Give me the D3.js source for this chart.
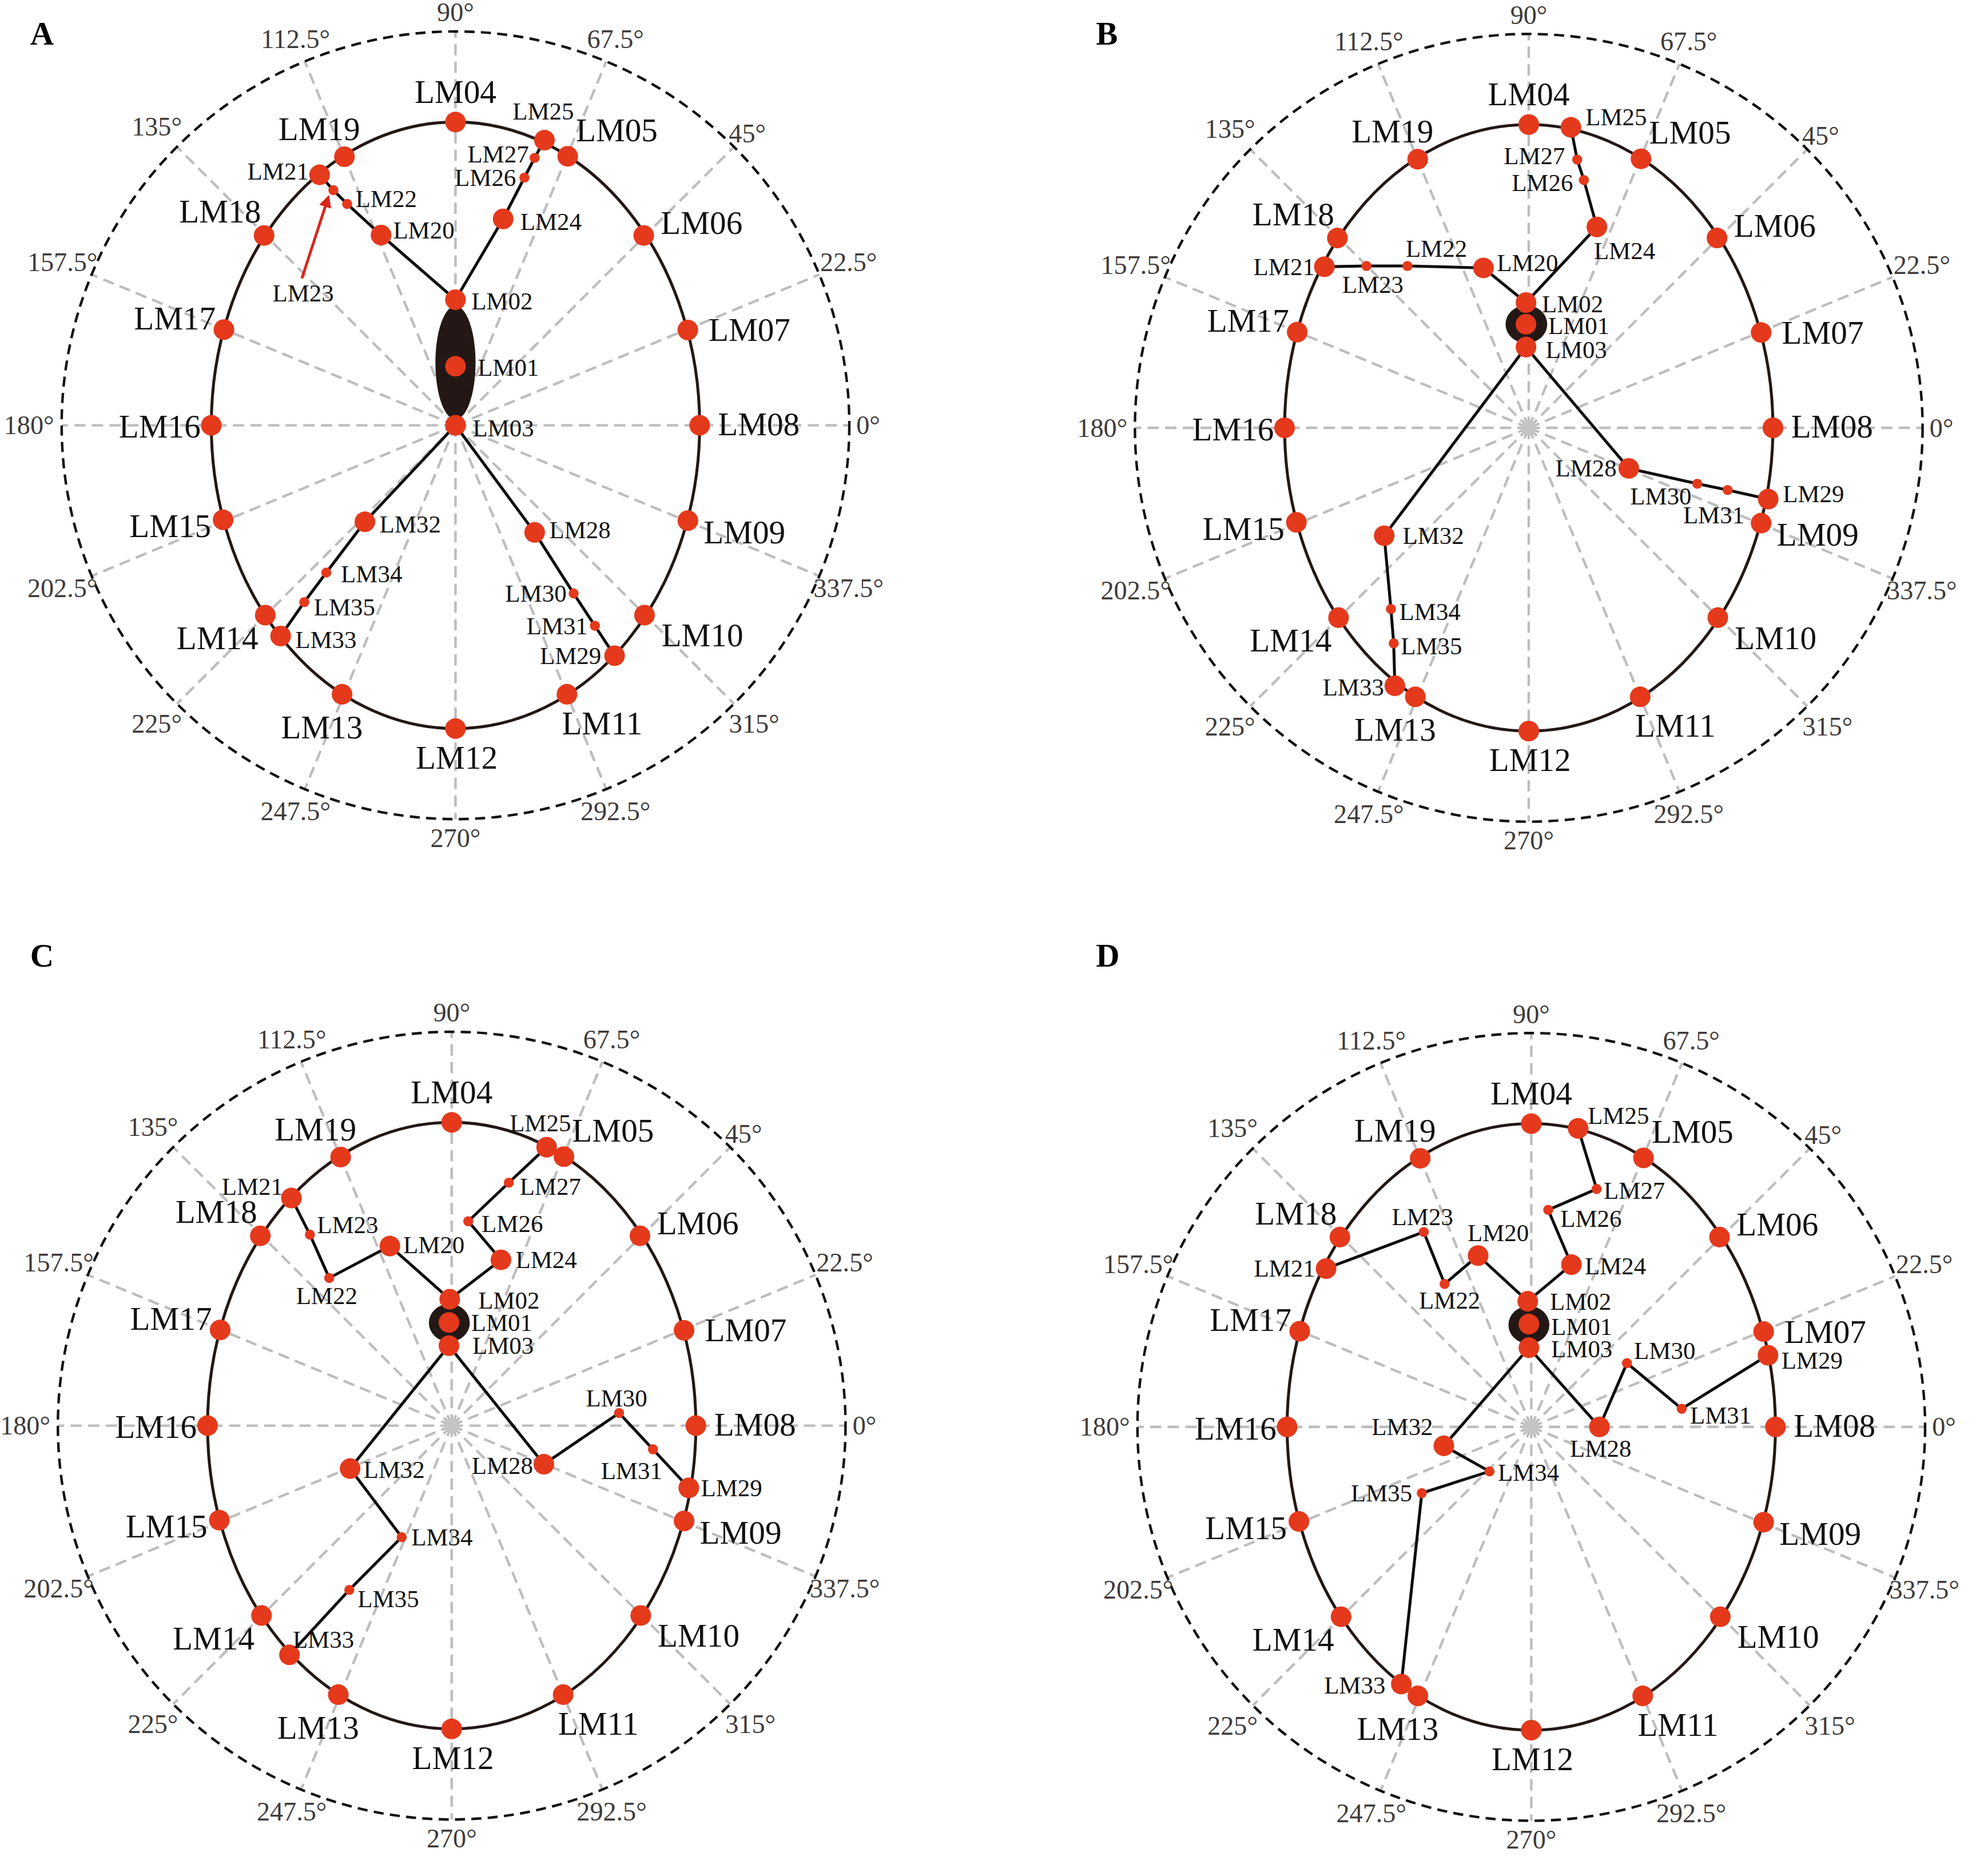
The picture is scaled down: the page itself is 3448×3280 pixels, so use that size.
<!DOCTYPE html>
<html>
<head>
<meta charset="utf-8">
<script src="https://cdn.jsdelivr.net/npm/d3@7"></script>
<style>
html, body { margin: 0; padding: 0; background: #fff; }
svg text { font-family: "Liberation Serif", "Times New Roman", serif; }
</style>
</head>
<body>
<div id="chart"></div>
<script>
// all landmark values are in units where the dashed outer circle has radius 100
// (x to the right, y upwards, origin at the polar centre)

// outline landmarks LM04-LM19, same in every panel
var ringNames = ['LM04', 'LM05', 'LM06', 'LM07', 'LM08', 'LM09', 'LM10', 'LM11',
                 'LM12', 'LM13', 'LM14', 'LM15', 'LM16', 'LM17', 'LM18', 'LM19'];
var ringX = [0, 28.5, 47.8, 59, 62, 59, 48, 28.3, 0, -28.8, -48.3, -59, -62, -58.8, -48.6, -28.2];
var ringY = [77, 68.3, 48.2, 24.2, 0, -24.2, -48.2, -68.3, -77, -68.3, -48.2, -24, 0, 24.3, 48.2, 68.2];

// semi axes of the outline ellipse
var outlineAxes = [62, 77];

// inner landmarks, one x and one y list per panel
var innerNames = ['LM01', 'LM02', 'LM03', 'LM20', 'LM21', 'LM22', 'LM23', 'LM24', 'LM25', 'LM26',
                  'LM27', 'LM28', 'LM29', 'LM30', 'LM31', 'LM32', 'LM33', 'LM34', 'LM35'];
var innerXA = [0, 0, 0, -18.9, -34.5, -27.5, -31.0, 12.1, 22.6, 17.5, 20.1, 20.1, 40.4, 30.0, 35.4, -23.0, -44.4, -32.8, -38.4];
var innerYA = [15, 31.9, 0, 48.3, 63.6, 56.2, 59.7, 52.4, 72.4, 62.9, 67.9, -27.2, -58.5, -42.7, -50.9, -24.5, -53.5, -37.4, -44.9];
var innerXB = [-0.7, -0.7, -0.7, -11.5, -51.9, -30.8, -41.2, 17.3, 10.7, 14.0, 12.3, 25.4, 60.8, 42.8, 50.5, -36.7, -34.0, -35.0, -34.3];
var innerYB = [26.3, 31.8, 20.5, 40.6, 40.9, 41.1, 41.1, 51.0, 76.3, 62.9, 68.1, -10.3, -18.1, -14.2, -15.8, -27.4, -65.5, -46.0, -54.7];
var innerXC = [-0.7, -0.5, -0.7, -15.7, -40.7, -31.1, -36.0, 12.5, 24.1, 4.2, 14.5, 23.4, 60.2, 42.5, 51.1, -25.8, -41.2, -12.7, -26.0];
var innerYC = [26.2, 32.1, 20.3, 45.6, 57.8, 37.5, 48.5, 42.1, 70.7, 51.9, 61.7, -9.8, -15.8, 3.2, -6.0, -10.9, -58.2, -28.3, -41.7];
var innerXD = [-0.6, -0.9, -0.6, -13.5, -52.1, -22.0, -27.3, 10.2, 11.9, 4.3, 16.6, 17.3, 60.1, 24.3, 38.2, -22.2, -33.0, -10.6, -27.8];
var innerYD = [26.1, 31.9, 20.1, 43.5, 40.2, 36.3, 49.5, 41.2, 75.8, 55.1, 60.4, 0, 18.2, 16.2, 4.6, -4.8, -65.3, -11.3, -16.8];

// dark ellipse around LM01 (x, y, rx, ry) per panel
var blobA = [0, 15.9, 5.1, 14.4];
var blobB = [-0.6, 26.3, 5.3, 4.8];
var blobC = [-0.6, 26.1, 5.2, 4.8];
var blobD = [-0.6, 25.9, 5.2, 4.8];

// connected landmark chains
var chains = [
    ['LM21', 'LM23', 'LM22', 'LM20', 'LM02'],
    ['LM25', 'LM27', 'LM26', 'LM24', 'LM02'],
    ['LM03', 'LM28', 'LM30', 'LM31', 'LM29'],
    ['LM03', 'LM32', 'LM34', 'LM35', 'LM33']
];
var smallDots = ['LM22', 'LM23', 'LM26', 'LM27', 'LM30', 'LM31', 'LM34', 'LM35'];

// polar tick labels (degrees)
var angleTicks = [0, 22.5, 45, 67.5, 90, 112.5, 135, 157.5, 180, 202.5, 225, 247.5, 270, 292.5, 315, 337.5];

// arrow pointing at LM23 in panel A: [x1, y1, x2, y2]
var arrowA = [-39.0, 37.3, -32.3, 57.9];

// ---- layout ----
var W = 3448, H = 3280, k = 2.2;
var R = 313;

// label offsets (screen units, label centre minus dot centre)
var ringLabelOff = {
    LM04: [0, -24], LM05: [39, -21], LM06: [46, -10], LM07: [49, 0], LM08: [47, -1],
    LM09: [45, 9], LM10: [46, 16], LM11: [28, 23], LM12: [1, 23], LM13: [-16, 26],
    LM14: [-38, 18], LM15: [-42, 5], LM16: [-41, 1], LM17: [-39, -9], LM18: [-35, -19], LM19: [-20, -22]
};
var innerLabelOff = {
    A: { LM01: [42, 1], LM02: [37, 1], LM03: [38, 2], LM20: [34, -4], LM21: [-33, -3], LM22: [31, -4],
         LM23: [-24, 82], LM24: [38, 2], LM25: [-1, -23], LM26: [-31, 0], LM27: [-29, -3], LM28: [36, -2],
         LM29: [-35, 0], LM30: [-30, 0], LM31: [-30, 0], LM32: [36, 2], LM33: [36, 3], LM34: [36, 1], LM35: [32, 4] },
    B: { LM01: [42, 1], LM02: [37, 1], LM03: [40, 2], LM20: [35, -4], LM21: [-32, 0], LM22: [23, -14],
         LM23: [5, 15], LM24: [22, 19], LM25: [36, -8], LM26: [-33, 2], LM27: [-34, -3], LM28: [-34, 0],
         LM29: [36, -4], LM30: [-29, 10], LM31: [-11, 20], LM32: [39, 0], LM33: [-33, 1], LM34: [31, 2], LM35: [30, 2] },
    C: { LM01: [42, 0], LM02: [47, 1], LM03: [43, 0], LM20: [35, -1], LM21: [-31, -9], LM22: [-2, 14],
         LM23: [30, -8], LM24: [36, 0], LM25: [-5, -19], LM26: [35, 2], LM27: [33, 3], LM28: [-33, 1],
         LM29: [34, 0], LM30: [-2, -12], LM31: [-17, 17], LM32: [35, 1], LM33: [27, -12], LM34: [32, 0], LM35: [31, 7] },
    D: { LM01: [42, 2], LM02: [42, 0], LM03: [42, 1], LM20: [16, -18], LM21: [-33, 0], LM22: [4, 13],
         LM23: [-1, -12], LM24: [35, 1], LM25: [32, -10], LM26: [34, 7], LM27: [30, 1], LM28: [1, 17],
         LM29: [35, 4], LM30: [30, -10], LM31: [31, 5], LM32: [-33, -15], LM33: [-37, 1], LM34: [31, 1], LM35: [-32, 0] }
};

var panels = [
    { id: 'A', cx: 362, cy: 338, lx: 24, ly: 35.5, xs: innerXA, ys: innerYA, blob: blobA, hub: false, arrow: arrowA },
    { id: 'B', cx: 1215, cy: 340, lx: 871, ly: 35.5, xs: innerXB, ys: innerYB, blob: blobB, hub: true },
    { id: 'C', cx: 359, cy: 1133, lx: 24, ly: 768, xs: innerXC, ys: innerYC, blob: blobC, hub: true },
    { id: 'D', cx: 1217, cy: 1134, lx: 871, ly: 768, xs: innerXD, ys: innerYD, blob: blobD, hub: true }
];

var red = '#e5391c';
var dark = '#231815';

var svg = d3.select('#chart')
    .append('svg')
    .attr('width', W)
    .attr('height', H)
    .attr('viewBox', `0 0 ${W / k} ${H / k}`);

svg.append('defs').append('marker')
    .attr('id', 'arrowhead')
    .attr('viewBox', '0 0 10 10')
    .attr('refX', 8)
    .attr('refY', 5)
    .attr('markerWidth', 4.5)
    .attr('markerHeight', 4.5)
    .attr('orient', 'auto')
    .append('path')
    .attr('d', 'M0,0 L10,5 L0,10 Z')
    .attr('fill', '#d8261c');

var rad = d => d * Math.PI / 180;

// label radius: wider labels sit a little further out at the sides
function labelR(a) {
    var c = Math.abs(Math.cos(rad(a)));
    var wide = String(a).indexOf('.') >= 0 || a >= 100;
    return 104.8 + (wide ? 3.5 * c : 0);
}

panels.forEach(function(p) {
    var x = d3.scaleLinear().domain([-100, 100]).range([p.cx - R, p.cx + R]);
    var y = d3.scaleLinear().domain([-100, 100]).range([p.cy + R, p.cy - R]);

    // landmark lookup
    var pts = {};
    ringNames.forEach((n, i) => pts[n] = { name: n, x: ringX[i], y: ringY[i], ring: true });
    innerNames.forEach((n, i) => pts[n] = { name: n, x: p.xs[i], y: p.ys[i], ring: false });

    var g = svg.append('g').attr('class', 'panel-' + p.id);

    // radial dashed grid
    g.selectAll('.ray')
        .data(angleTicks)
        .enter()
        .append('line')
        .attr('x1', x(0))
        .attr('y1', y(0))
        .attr('x2', d => x(100 * Math.cos(rad(d))))
        .attr('y2', d => y(100 * Math.sin(rad(d))))
        .attr('stroke', '#bdbdbd')
        .attr('stroke-width', 2)
        .attr('stroke-dasharray', '9,5');

    // outer dashed circle
    g.append('circle')
        .attr('cx', x(0))
        .attr('cy', y(0))
        .attr('r', x(100) - x(0))
        .attr('fill', 'none')
        .attr('stroke', '#111')
        .attr('stroke-width', 2)
        .attr('stroke-dasharray', '8,5');

    // angle labels
    g.selectAll('.angle')
        .data(angleTicks)
        .enter()
        .append('text')
        .attr('x', d => x(labelR(d) * Math.cos(rad(d))))
        .attr('y', d => y(labelR(d) * Math.sin(rad(d))))
        .attr('text-anchor', 'middle')
        .attr('dominant-baseline', 'central')
        .attr('font-size', 21)
        .attr('fill', '#3e3a39')
        .text(d => d + '°');

    // outline ellipse
    g.append('ellipse')
        .attr('cx', x(0))
        .attr('cy', y(0))
        .attr('rx', x(outlineAxes[0]) - x(0))
        .attr('ry', y(0) - y(outlineAxes[1]))
        .attr('fill', 'none')
        .attr('stroke', dark)
        .attr('stroke-width', 2.3);

    // chains
    var line = d3.line()
        .x(n => x(pts[n].x))
        .y(n => y(pts[n].y));

    g.selectAll('.chain')
        .data(chains)
        .enter()
        .append('path')
        .attr('d', line)
        .attr('fill', 'none')
        .attr('stroke', '#0d0d0d')
        .attr('stroke-width', 2.3)
        .attr('stroke-linejoin', 'round');

    // dark ellipse around LM01
    g.append('ellipse')
        .attr('cx', x(p.blob[0]))
        .attr('cy', y(p.blob[1]))
        .attr('rx', x(p.blob[2]) - x(0))
        .attr('ry', y(0) - y(p.blob[3]))
        .attr('fill', dark);

    // grey hub
    if (p.hub) {
        g.append('circle')
            .attr('cx', x(0))
            .attr('cy', y(0))
            .attr('r', 5.5)
            .attr('fill', '#c4c4c4');
    }

    // arrow (panel A)
    if (p.arrow) {
        g.append('line')
            .attr('x1', x(p.arrow[0]))
            .attr('y1', y(p.arrow[1]))
            .attr('x2', x(p.arrow[2]))
            .attr('y2', y(p.arrow[3]))
            .attr('stroke', '#d8261c')
            .attr('stroke-width', 2.2)
            .attr('marker-end', 'url(#arrowhead)');
    }

    var all = Object.values(pts);

    // dots
    g.selectAll('.dot')
        .data(all)
        .enter()
        .append('circle')
        .attr('cx', d => x(d.x))
        .attr('cy', d => y(d.y))
        .attr('r', d => smallDots.indexOf(d.name) >= 0 ? 4 : 8.2)
        .attr('fill', red);

    // labels
    var offs = innerLabelOff[p.id];
    g.selectAll('.lab')
        .data(all)
        .enter()
        .append('text')
        .attr('x', d => x(d.x) + (d.ring ? ringLabelOff[d.name] : offs[d.name])[0])
        .attr('y', d => y(d.y) + (d.ring ? ringLabelOff[d.name] : offs[d.name])[1])
        .attr('text-anchor', 'middle')
        .attr('dominant-baseline', 'central')
        .attr('font-size', d => d.ring ? 26 : 19.5)
        .attr('fill', '#111')
        .text(d => d.name);

    // panel letter
    svg.append('text')
        .attr('x', p.lx)
        .attr('y', p.ly)
        .attr('font-family', '"Liberation Sans", Arial, sans-serif')
        .attr('font-weight', 'bold')
        .attr('font-size', 26)
        .attr('fill', '#000')
        .text(p.id);
});
</script>
</body>
</html>
